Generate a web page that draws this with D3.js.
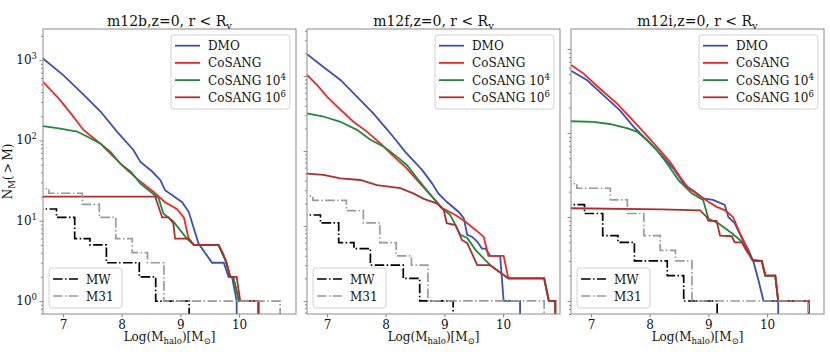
<!DOCTYPE html>
<html>
<head>
<meta charset="utf-8" />
<style>
  body { margin: 0; background: #fff; }
  text { font-family: "DejaVu Serif", serif; fill: #111; }
  .frame { fill: none; stroke: #8a8a8a; stroke-width: 1; }
  .axis path { display: none; }
  .axis line { stroke: #8a8a8a; }
  .legbox { fill: #fff; fill-opacity: 0.8; stroke: #d0d0d0; stroke-width: 1; }
</style>
<script src="https://d3js.org/d3.v7.min.js"></script>
</head>
<body>
<script>
// ---- data: [log10(M_halo), N(>M)] ----
var titles = ["m12b", "m12f", "m12i"];
var xTicks = [7, 8, 9, 10];
var yTicks = [1, 10, 100, 1000];
var xLimits = [6.66, 10.97];
var yMin = [0.69, 0.67, 0.70];
var yMax = [2440, 4230, 1730];

var mwSteps  = [[6.5,14],[6.89,11],[7.20,6],[7.46,5],[7.74,3],[8.30,2],[8.58,1],[9.15,0.3]];
var m31Steps = [[6.5,25],[6.76,22],[7.33,16],[7.62,11],[7.90,6],[8.18,4],[8.44,3],[8.72,1],[10.70,0.3]];

var m12b_dmo = [[6.66,1047],[7.01,646],[7.35,372],[7.64,229],[7.92,129],[8.20,76],[8.32,54],[8.52,41],[8.66,32],[8.74,24],[9.03,17],[9.14,13],[9.31,5.2],[9.54,3],[9.74,3],[9.82,2],[9.88,2],[9.96,1],[9.96,0.3]];
var m12b_cosang = [[6.66,537],[6.93,331],[7.13,219],[7.35,135],[7.64,91],[7.86,63],[8.09,43],[8.29,32],[8.54,23],[8.74,17],[8.94,14],[9.06,11],[9.14,6],[9.23,5],[9.65,5],[9.77,3.2],[9.85,2],[9.90,2],[10.0,1],[10.33,1],[10.33,0.3]];
var m12b_c4 = [[6.66,151],[6.93,141],[7.24,129],[7.41,112],[7.64,91],[7.81,72],[7.98,51],[8.15,41],[8.26,33],[8.32,29],[8.46,24],[8.63,19],[8.71,12.3],[8.88,9.8],[9.11,6],[9.23,5],[9.65,5],[9.77,3.2],[9.85,2],[9.90,2],[10.0,1],[10.33,1],[10.33,0.3]];
var m12b_c6 = [[6.66,20],[8.57,20],[8.69,11],[8.80,11],[8.88,9.3],[8.91,6],[9.14,6],[9.23,5],[9.65,5],[9.72,4],[9.79,3],[9.85,2],[9.96,2],[10.02,1],[10.33,1],[10.33,0.3]];

var m12f_dmo = [[6.66,1950],[6.94,1320],[7.23,886],[7.51,530],[7.79,317],[8.08,172],[8.33,98],[8.62,56],[8.79,37],[8.90,27],[9.04,21],[9.24,15.5],[9.33,12.7],[9.39,7.6],[9.47,7.2],[9.56,6.2],[9.64,5],[9.70,5],[9.78,4],[9.95,4],[10.01,1],[10.29,1],[10.29,0.3]];
var m12f_cosang = [[6.66,1030],[6.83,760],[7.00,530],[7.23,355],[7.45,245],[7.68,181],[7.91,126],[8.14,84],[8.33,62],[8.56,39],[8.79,24.6],[8.96,17.3],[9.19,14],[9.36,11.4],[9.67,7.2],[9.75,4],[10.01,4],[10.09,2],[10.70,2],[10.78,1],[10.89,1],[10.89,0.3]];
var m12f_c4 = [[6.66,317],[6.94,288],[7.23,245],[7.51,191],[7.74,141],[7.97,114],[8.19,84],[8.36,65],[8.56,41],[8.79,24.6],[8.96,17.3],[9.10,14],[9.16,11.4],[9.27,7.6],[9.39,6.9],[9.53,4.8],[9.78,3],[10.09,2],[10.70,2],[10.78,1],[10.89,1],[10.89,0.3]];
var m12f_c6 = [[6.66,50],[6.94,48],[7.23,43],[7.57,41],[7.85,35],[8.25,32],[8.48,27],[8.65,23],[8.87,20],[8.99,16.3],[9.04,10.9],[9.19,10.3],[9.30,6.5],[9.39,5.9],[9.47,4.3],[9.56,3],[9.78,3],[10.09,2],[10.70,2],[10.78,1],[10.89,1],[10.89,0.3]];

var m12i_dmo = [[6.66,552],[6.93,427],[7.21,283],[7.49,187],[7.72,120],[7.95,83],[8.18,57],[8.40,38],[8.60,24],[8.77,20],[8.91,16.7],[9.08,16],[9.28,13.9],[9.34,10],[9.45,8.4],[9.57,5.6],[9.68,4.1],[9.77,2.9],[9.85,1.8],[9.94,1],[10.19,1],[10.19,0.3]];
var m12i_cosang = [[6.66,646],[6.87,513],[7.15,339],[7.44,225],[7.66,156],[7.89,104],[8.12,69],[8.35,45],[8.52,30],[8.66,22],[8.83,18.3],[9.00,15.2],[9.14,13.2],[9.28,12.1],[9.42,10],[9.54,6.4],[9.62,4.9],[9.74,3.1],[9.91,3],[9.97,2],[10.14,2],[10.19,1],[10.71,1],[10.71,0.3]];
var m12i_c4 = [[6.66,138],[7.04,136],[7.32,128],[7.61,114],[7.78,104],[7.95,83],[8.12,63],[8.29,44],[8.49,27.5],[8.72,19],[8.91,16],[9.00,9.6],[9.17,8.4],[9.40,6.4],[9.57,5.1],[9.65,4],[9.77,3],[9.91,3],[9.97,2],[10.14,2],[10.19,1],[10.71,1],[10.71,0.3]];
var m12i_c6 = [[6.66,12.7],[8.20,12.3],[8.86,12],[8.97,10],[9.00,9],[9.14,9],[9.20,6],[9.40,5.9],[9.45,5],[9.57,5],[9.65,4],[9.77,3],[9.91,3],[9.97,2],[10.14,2],[10.19,1],[10.71,1],[10.71,0.3]];

var simNames  = ["DMO", "CoSANG", "CoSANG 10", "CoSANG 10"];
var simSups   = ["", "", "4", "6"];
var simColors = ["#3a50b2", "#f02626", "#1e8a3a", "#b02c2c"];

var panels = [
  [m12b_dmo, m12b_cosang, m12b_c4, m12b_c6],
  [m12f_dmo, m12f_cosang, m12f_c4, m12f_c6],
  [m12i_dmo, m12i_cosang, m12i_c4, m12i_c6]
];

// ---- layout ----
var width = 830, height = 355;
var lefts = [43, 307, 571], pw = 253, plotTop = 29, ph = 285;
var dashDot = "9.6,2.4,1.5,2.4";

var svg = d3.select("body").append("svg")
    .attr("width", width)
    .attr("height", height);

function supText(sel, base, sup) {
  sel.append("tspan").text(base);
  if (sup) sel.append("tspan").attr("dy", -5).style("font-size", "8.5px").text(sup);
}

panels.forEach(function(series, i) {
  var g = svg.append("g").attr("transform", "translate(" + lefts[i] + "," + plotTop + ")");
  var x = d3.scaleLinear().domain(xLimits).range([0, pw]);
  var y = d3.scaleLog().domain([yMin[i], yMax[i]]).range([ph, 0]);

  g.append("clipPath").attr("id", "clip" + i)
    .append("rect").attr("width", pw).attr("height", ph);

  // x axis
  var xa = g.append("g").attr("class", "axis")
      .attr("transform", "translate(0," + ph + ")")
      .call(d3.axisBottom(x).tickValues(xTicks).tickSize(3.5).tickPadding(3).tickFormat(d3.format("d")));
  xa.selectAll("text").style("font-size", "12px").style("font-family", "DejaVu Serif").attr("fill", "#111");

  // y axis: major and minor ticks
  var minor = [];
  for (var k = -1; k <= 4; k++) for (var m = 2; m <= 9; m++) {
    var v = m * Math.pow(10, k);
    if (v > yMin[i] && v < yMax[i]) minor.push(v);
  }
  g.append("g").attr("class", "axis")
    .call(d3.axisLeft(y).tickValues(yTicks).tickSize(3.5).tickFormat(""));
  g.append("g").attr("class", "axis")
    .call(d3.axisLeft(y).tickValues(minor).tickSize(2).tickFormat(""));

  if (i === 0) {
    yTicks.forEach(function(t) {
      var tx = g.append("text")
        .attr("x", -6).attr("y", y(t) + 4)
        .attr("text-anchor", "end")
        .style("font-size", "12px");
      supText(tx, "10", String(Math.round(Math.log10(t))));
    });
    var yl = svg.append("text")
      .attr("transform", "translate(12," + (plotTop + ph / 2) + ") rotate(-90)")
      .attr("text-anchor", "middle")
      .style("font-size", "12px");
    yl.append("tspan").text("N");
    yl.append("tspan").attr("dy", 3).style("font-size", "8.5px").text("M");
    yl.append("tspan").attr("dy", -3).text("(\u2009>\u2009M)");
  }

  // curves
  var line = d3.line().x(function(d) { return x(d[0]); }).y(function(d) { return y(d[1]); });
  var step = d3.line().curve(d3.curveStepAfter)
      .x(function(d) { return x(d[0]); }).y(function(d) { return y(d[1]); });
  var cg = g.append("g").attr("clip-path", "url(#clip" + i + ")");

  series.forEach(function(s, j) {
    cg.append("path").datum(s)
      .attr("d", line)
      .attr("fill", "none")
      .attr("stroke", simColors[j])
      .attr("stroke-width", 1.8);
  });
  cg.append("path").datum(mwSteps).attr("d", step)
    .attr("fill", "none").attr("stroke", "#000").attr("stroke-width", 1.7)
    .attr("stroke-dasharray", dashDot);
  cg.append("path").datum(m31Steps).attr("d", step)
    .attr("fill", "none").attr("stroke", "#9a9a9a").attr("stroke-width", 1.7)
    .attr("stroke-dasharray", dashDot);

  g.append("rect").attr("class", "frame").attr("width", pw).attr("height", ph);

  // title
  var tt = g.append("text")
    .attr("x", pw / 2).attr("y", -3)
    .attr("text-anchor", "middle")
    .style("font-size", "14px");
  tt.append("tspan").text(titles[i] + ",z=0, r < R");
  tt.append("tspan").attr("dy", 3).style("font-size", "10px").text("v");

  // x label
  var xl = g.append("text")
    .attr("x", pw / 2).attr("y", ph + 27)
    .attr("text-anchor", "middle")
    .style("font-size", "12px");
  xl.append("tspan").text("Log(M");
  xl.append("tspan").attr("dy", 3).style("font-size", "8.5px").text("halo");
  xl.append("tspan").attr("dy", -3).text(")[M");
  xl.append("tspan").attr("dy", 3).style("font-size", "8.5px").text("\u2299");
  xl.append("tspan").attr("dy", -3).text("]");

  // upper-right legend
  var lw = 119, lh = 74;
  var lg = g.append("g").attr("transform", "translate(" + (pw - 6 - lw) + ",6)");
  lg.append("rect").attr("class", "legbox").attr("width", lw).attr("height", lh).attr("rx", 3);
  simNames.forEach(function(n, j) {
    var ly = 10.7 + j * 17.2;
    lg.append("line").attr("x1", 4).attr("x2", 29).attr("y1", ly).attr("y2", ly)
      .attr("stroke", simColors[j]).attr("stroke-width", 1.8);
    var t = lg.append("text").attr("x", 37).attr("y", ly + 4.5).style("font-size", "12px");
    supText(t, n, simSups[j]);
  });

  // lower-left legend
  var og = g.append("g").attr("transform", "translate(6," + (ph - 6 - 40) + ")");
  og.append("rect").attr("class", "legbox").attr("width", 73).attr("height", 40).attr("rx", 3);
  [["MW", "#000"], ["M31", "#9a9a9a"]].forEach(function(o, j) {
    var ly = 11 + j * 17;
    og.append("line").attr("x1", 4).attr("x2", 29).attr("y1", ly).attr("y2", ly)
      .attr("stroke", o[1]).attr("stroke-width", 1.7).attr("stroke-dasharray", dashDot);
    og.append("text").attr("x", 37).attr("y", ly + 4.5).style("font-size", "12px").text(o[0]);
  });
});
</script>
</body>
</html>
